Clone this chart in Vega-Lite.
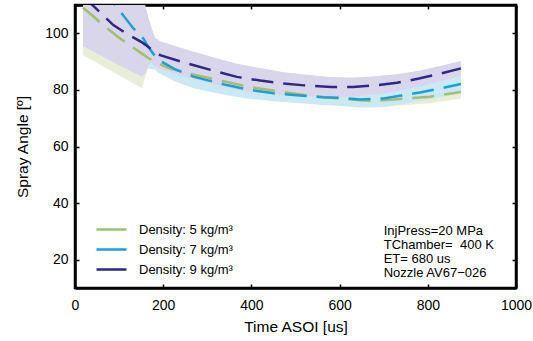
{
  "$schema": "https://vega.github.io/schema/vega-lite/v6.json",
  "width": 441,
  "height": 283,
  "autosize": "none",
  "padding": {"left": 75, "top": 5, "right": 17, "bottom": 53},
  "background": "white",
  "config": {
    "font": "Liberation Sans",
    "view": {"stroke": "#000", "strokeWidth": 2.5},
    "axis": {
      "domain": true, "domainColor": "#000", "domainWidth": 2.5,
      "ticks": true, "tickColor": "#000", "tickWidth": 1.5, "tickSize": -4,
      "labelFontSize": 14, "labelColor": "#000", "labelFont": "Liberation Sans",
      "titleFontSize": 15.5, "titleFontWeight": "normal", "titleColor": "#000", "titleFont": "Liberation Sans",
      "grid": false, "labelFlush": false, "format": "d"
    }
  },
  "datasets": {
    "curves": [
      {"s": "Density: 5 kg/m³", "t": 18, "v": 109.0, "lo": 92.3, "hi": 125},
      {"s": "Density: 5 kg/m³", "t": 40, "v": 106.2, "lo": 90.4, "hi": 122},
      {"s": "Density: 5 kg/m³", "t": 64, "v": 102.9, "lo": 88.3, "hi": 119},
      {"s": "Density: 5 kg/m³", "t": 100, "v": 98.4, "lo": 85.2, "hi": 114},
      {"s": "Density: 5 kg/m³", "t": 140, "v": 94.1, "lo": 81.6, "hi": 110},
      {"s": "Density: 5 kg/m³", "t": 151, "v": 92.9, "lo": 80.6, "hi": 108},
      {"s": "Density: 5 kg/m³", "t": 168, "v": 91.1, "lo": 88.6, "hi": 93.6},
      {"s": "Density: 5 kg/m³", "t": 190, "v": 89.2, "lo": 86.9, "hi": 91.5},
      {"s": "Density: 5 kg/m³", "t": 215, "v": 87.6, "lo": 85.3, "hi": 89.9},
      {"s": "Density: 5 kg/m³", "t": 250, "v": 86.0, "lo": 83.7, "hi": 88.3},
      {"s": "Density: 5 kg/m³", "t": 306, "v": 84.1, "lo": 81.8, "hi": 86.4},
      {"s": "Density: 5 kg/m³", "t": 350, "v": 82.6, "lo": 80.3, "hi": 84.9},
      {"s": "Density: 5 kg/m³", "t": 397, "v": 81.0, "lo": 78.7, "hi": 83.3},
      {"s": "Density: 5 kg/m³", "t": 465, "v": 79.4, "lo": 77.1, "hi": 81.7},
      {"s": "Density: 5 kg/m³", "t": 520, "v": 78.2, "lo": 75.9, "hi": 80.5},
      {"s": "Density: 5 kg/m³", "t": 556, "v": 77.6, "lo": 75.3, "hi": 79.9},
      {"s": "Density: 5 kg/m³", "t": 600, "v": 76.9, "lo": 74.6, "hi": 79.2},
      {"s": "Density: 5 kg/m³", "t": 670, "v": 76.1, "lo": 73.8, "hi": 78.4},
      {"s": "Density: 5 kg/m³", "t": 700, "v": 76.3, "lo": 74.0, "hi": 78.6},
      {"s": "Density: 5 kg/m³", "t": 737, "v": 76.8, "lo": 74.5, "hi": 79.1},
      {"s": "Density: 5 kg/m³", "t": 805, "v": 77.6, "lo": 75.3, "hi": 79.9},
      {"s": "Density: 5 kg/m³", "t": 857, "v": 78.8, "lo": 76.5, "hi": 81.1},
      {"s": "Density: 5 kg/m³", "t": 875, "v": 79.3, "lo": 77.0, "hi": 81.6},

      {"s": "Density: 7 kg/m³", "t": 60, "v": 116.0, "lo": 106, "hi": 131},
      {"s": "Density: 7 kg/m³", "t": 94, "v": 109.4, "lo": 99.4, "hi": 125},
      {"s": "Density: 7 kg/m³", "t": 132, "v": 101.8, "lo": 91.8, "hi": 118},
      {"s": "Density: 7 kg/m³", "t": 155, "v": 98.2, "lo": 88.2, "hi": 112},
      {"s": "Density: 7 kg/m³", "t": 165, "v": 95.5, "lo": 87.6, "hi": 106},
      {"s": "Density: 7 kg/m³", "t": 181, "v": 92.0, "lo": 87.2, "hi": 98.6},
      {"s": "Density: 7 kg/m³", "t": 189, "v": 90.6, "lo": 86.1, "hi": 94.2},
      {"s": "Density: 7 kg/m³", "t": 223, "v": 87.6, "lo": 83.2, "hi": 91.0},
      {"s": "Density: 7 kg/m³", "t": 268, "v": 84.7, "lo": 80.6, "hi": 88.0},
      {"s": "Density: 7 kg/m³", "t": 344, "v": 81.7, "lo": 78.1, "hi": 84.9},
      {"s": "Density: 7 kg/m³", "t": 397, "v": 80.0, "lo": 76.8, "hi": 83.2},
      {"s": "Density: 7 kg/m³", "t": 450, "v": 78.8, "lo": 76.0, "hi": 81.8},
      {"s": "Density: 7 kg/m³", "t": 510, "v": 78.0, "lo": 75.3, "hi": 81.0},
      {"s": "Density: 7 kg/m³", "t": 560, "v": 77.4, "lo": 74.7, "hi": 80.4},
      {"s": "Density: 7 kg/m³", "t": 600, "v": 77.2, "lo": 74.4, "hi": 80.2},
      {"s": "Density: 7 kg/m³", "t": 646, "v": 76.6, "lo": 73.8, "hi": 79.6},
      {"s": "Density: 7 kg/m³", "t": 700, "v": 77.0, "lo": 74.0, "hi": 80.0},
      {"s": "Density: 7 kg/m³", "t": 740, "v": 78.0, "lo": 74.9, "hi": 81.0},
      {"s": "Density: 7 kg/m³", "t": 782, "v": 79.1, "lo": 75.9, "hi": 82.1},
      {"s": "Density: 7 kg/m³", "t": 830, "v": 80.6, "lo": 77.4, "hi": 83.6},
      {"s": "Density: 7 kg/m³", "t": 875, "v": 82.1, "lo": 78.8, "hi": 85.1},

      {"s": "Density: 9 kg/m³", "t": 18, "v": 113.0, "lo": 95.5, "hi": 130},
      {"s": "Density: 9 kg/m³", "t": 38, "v": 110.2, "lo": 93.8, "hi": 128},
      {"s": "Density: 9 kg/m³", "t": 87, "v": 102.9, "lo": 89.8, "hi": 122},
      {"s": "Density: 9 kg/m³", "t": 120, "v": 99.6, "lo": 87.1, "hi": 118},
      {"s": "Density: 9 kg/m³", "t": 151, "v": 96.9, "lo": 84.7, "hi": 113},
      {"s": "Density: 9 kg/m³", "t": 159, "v": 96.0, "lo": 85.8, "hi": 110},
      {"s": "Density: 9 kg/m³", "t": 170, "v": 94.7, "lo": 89.7, "hi": 103.5},
      {"s": "Density: 9 kg/m³", "t": 181, "v": 93.5, "lo": 88.6, "hi": 98.4},
      {"s": "Density: 9 kg/m³", "t": 193, "v": 92.3, "lo": 87.4, "hi": 97.2},
      {"s": "Density: 9 kg/m³", "t": 253, "v": 89.4, "lo": 84.5, "hi": 94.3},
      {"s": "Density: 9 kg/m³", "t": 321, "v": 86.5, "lo": 81.8, "hi": 91.2},
      {"s": "Density: 9 kg/m³", "t": 367, "v": 84.6, "lo": 80.0, "hi": 89.2},
      {"s": "Density: 9 kg/m³", "t": 420, "v": 83.3, "lo": 78.9, "hi": 87.7},
      {"s": "Density: 9 kg/m³", "t": 470, "v": 82.3, "lo": 78.3, "hi": 86.3},
      {"s": "Density: 9 kg/m³", "t": 520, "v": 81.6, "lo": 77.8, "hi": 85.4},
      {"s": "Density: 9 kg/m³", "t": 580, "v": 81.0, "lo": 77.4, "hi": 84.6},
      {"s": "Density: 9 kg/m³", "t": 630, "v": 81.0, "lo": 77.6, "hi": 84.4},
      {"s": "Density: 9 kg/m³", "t": 680, "v": 81.6, "lo": 78.4, "hi": 84.8},
      {"s": "Density: 9 kg/m³", "t": 730, "v": 82.5, "lo": 79.5, "hi": 85.5},
      {"s": "Density: 9 kg/m³", "t": 780, "v": 84.0, "lo": 81.2, "hi": 86.8},
      {"s": "Density: 9 kg/m³", "t": 830, "v": 85.8, "lo": 83.1, "hi": 88.5},
      {"s": "Density: 9 kg/m³", "t": 875, "v": 87.6, "lo": 85.0, "hi": 90.2}
    ],
    "notes": [
      {"t": 700, "v": 30, "label": "InjPress=20 MPa"},
      {"t": 700, "v": 25.2, "label": "TChamber= \u00a0400 K"},
      {"t": 700, "v": 20.2, "label": "ET= 680 us"},
      {"t": 700, "v": 15.4, "label": "Nozzle AV67−026"}
    ]
  },
  "layer": [
    {
      "data": {"name": "curves"},
      "transform": [{"filter": "datum.s === 'Density: 5 kg/m³'"}],
      "mark": {"type": "area", "clip": true, "color": "#e9eed9"},
      "encoding": {
        "x": {"field": "t", "type": "quantitative", "scale": {"domain": [0, 1000], "nice": false},
              "axis": {"orient": "bottom", "values": [0, 200, 400, 600, 800, 1000], "title": "Time ASOI [us]", "labelPadding": 14, "titlePadding": 7}},
        "y": {"field": "lo", "type": "quantitative", "scale": {"domain": [10, 110], "nice": false, "zero": false},
              "axis": {"orient": "left", "values": [20, 40, 60, 80, 100], "title": "Spray Angle [º]", "labelPadding": 11, "titlePadding": 14}},
        "y2": {"field": "hi"}
      }
    },
    {
      "data": {"name": "curves"},
      "transform": [{"filter": "datum.s === 'Density: 7 kg/m³'"}],
      "mark": {"type": "area", "clip": true, "color": "#cbe9f5"},
      "encoding": {
        "x": {"field": "t", "type": "quantitative", "axis": null},
        "y": {"field": "lo", "type": "quantitative", "axis": null},
        "y2": {"field": "hi"}
      }
    },
    {
      "data": {"name": "curves"},
      "transform": [{"filter": "datum.s === 'Density: 9 kg/m³'"}],
      "mark": {"type": "area", "clip": true, "color": "#d9d5ea"},
      "encoding": {
        "x": {"field": "t", "type": "quantitative", "axis": null},
        "y": {"field": "lo", "type": "quantitative", "axis": null},
        "y2": {"field": "hi"}
      }
    },
    {
      "data": {"name": "curves"},
      "mark": {"type": "line", "clip": true, "strokeWidth": 2.5, "strokeDash": [22, 10]},
      "encoding": {
        "x": {"field": "t", "type": "quantitative",
              "axis": {"orient": "top", "values": [0, 200, 400, 600, 800, 1000], "labels": false, "title": null}},
        "y": {"field": "v", "type": "quantitative",
              "axis": {"orient": "right", "values": [20, 40, 60, 80, 100], "labels": false, "title": null}},
        "stroke": {
          "field": "s", "type": "nominal",
          "scale": {"domain": ["Density: 5 kg/m³", "Density: 7 kg/m³", "Density: 9 kg/m³"], "range": ["#a2bf6b", "#1aa0d6", "#2e2886"]},
          "legend": {
            "orient": "none", "legendX": 30, "legendY": 218, "title": null, "padding": 0,
            "symbolType": "M-3,0H0M3,0H0", "symbolSize": 100, "symbolStrokeWidth": 2.5,
            "labelFontSize": 13, "labelColor": "#000", "labelOffset": 21, "rowPadding": 6
          }
        }
      }
    },
    {
      "data": {"name": "notes"},
      "mark": {"type": "text", "align": "left", "baseline": "middle", "fontSize": 13, "color": "#000"},
      "encoding": {
        "x": {"field": "t", "type": "quantitative", "axis": null},
        "y": {"field": "v", "type": "quantitative", "axis": null},
        "text": {"field": "label"}
      }
    }
  ],
  "resolve": {"axis": {"x": "independent", "y": "independent"}}
}
